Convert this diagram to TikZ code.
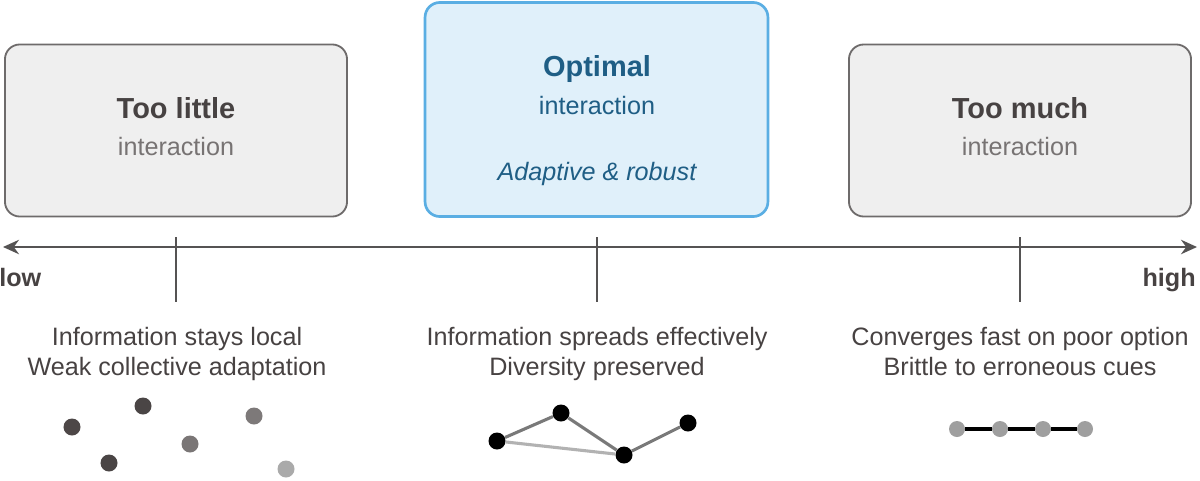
\documentclass[tikz,border=0pt]{standalone}
\usepackage{fontspec}
\setmainfont{Liberation Sans}
\usetikzlibrary{arrows.meta}
\definecolor{boxfill}{HTML}{EFEFEF}
\definecolor{boxline}{HTML}{6E6B6B}
\definecolor{optfill}{HTML}{E0F0FA}
\definecolor{optline}{HTML}{5AAEE3}
\definecolor{opttext}{HTML}{1F5E85}
\definecolor{darktext}{HTML}{474242}
\definecolor{softtext}{HTML}{777373}
\definecolor{axisgray}{HTML}{555353}
\newcommand{\bigfont}{\fontsize{20.6}{24}\selectfont}
\newcommand{\midfont}{\fontsize{17.9}{21}\selectfont}

\begin{document}
\begin{tikzpicture}[x=0.025cm,y=-0.025cm,
	sidebox/.style={draw=boxline,line width=1.3pt,fill=boxfill,rounded corners=0.37cm,
		minimum width=8.55cm,minimum height=4.3cm,inner sep=0pt},
	optbox/.style={draw=optline,line width=1.9pt,fill=optfill,rounded corners=0.37cm,
		minimum width=8.57cm,minimum height=5.35cm,inner sep=0pt},
	txt/.style={anchor=base,inner sep=0pt,font=\midfont},
	title/.style={txt,font=\bigfont\bfseries},
	dot/.style={circle,inner sep=0pt,minimum size=0.425cm},
	tick/.style={draw=axisgray,line width=1.4pt}]
\useasboundingbox (0,0) rectangle (1200,480);
% boxes
\node [sidebox] (little) at (176,130.5) {};
\node [optbox] (optimal) at (596.5,109.5) {};
\node [sidebox] (much) at (1020,130.5) {};
\node [title,text=darktext] (littletitle) at (176,118) {Too little};
\node [txt,text=softtext] (littlesub) at (176,155) {interaction};
\node [title,text=opttext] (opttitle) at (597,76) {Optimal};
\node [txt,text=opttext] (optsub) at (597,114) {interaction};
\node [txt,text=opttext,font=\midfont\itshape] (optnote) at (597,180) {Adaptive \& robust};
\node [title,text=darktext] (muchtitle) at (1020,118) {Too much};
\node [txt,text=softtext] (muchsub) at (1020,155) {interaction};
% axis
\coordinate (axisL) at (3,247);
\coordinate (axisR) at (1197,247);
\draw [axisgray,line width=1.4pt,{Stealth[length=0.4cm,width=0.36cm]}-{Stealth[length=0.4cm,width=0.36cm]}] (axisL) -- (axisR);
\node [txt,font=\midfont\bfseries,text=darktext,anchor=base west] (low) at (-1,286) {low};
\node [txt,font=\midfont\bfseries,text=darktext,anchor=base east] (high) at (1196,286) {high};
\foreach \x/\n in {176/a,597/b,1020/c}{
	\coordinate (top\n) at (\x,237);
	\coordinate (bot\n) at (\x,302);
	\draw [tick] (top\n) -- (bot\n);
}
% descriptions
\node [txt,text=darktext] (locA) at (177,345) {Information stays local};
\node [txt,text=darktext] (locB) at (177,375) {Weak collective adaptation};
\node [txt,text=darktext] (sprA) at (597,345) {Information spreads effectively};
\node [txt,text=darktext] (sprB) at (597,375) {Diversity preserved};
\node [txt,text=darktext] (conA) at (1020,345) {Converges fast on poor option};
\node [txt,text=darktext] (conB) at (1020,375) {Brittle to erroneous cues};
% scattered agents
\node [dot,fill={rgb,255:red,77;green,71;blue,71}] (s1) at (72,427) {};
\node [dot,fill={rgb,255:red,74;green,69;blue,69}] (s2) at (143,406) {};
\node [dot,fill={rgb,255:red,74;green,69;blue,69}] (s3) at (109,463) {};
\node [dot,fill={rgb,255:red,122;green,118;blue,118}] (s4) at (190,444) {};
\node [dot,fill={rgb,255:red,125;green,121;blue,121}] (s5) at (254,416) {};
\node [dot,fill={rgb,255:red,170;green,170;blue,170}] (s6) at (286,469) {};
% network
\node [dot,fill=black] (n1) at (497,441) {};
\node [dot,fill=black] (n2) at (561,413) {};
\node [dot,fill=black] (n3) at (624,455) {};
\node [dot,fill=black] (n4) at (688,423) {};
\draw [line width=2.2pt,gray!60] (n1) -- (n3);
\draw [line width=2.2pt,gray!95!black] (n1) -- (n2) -- (n3) -- (n4);
% chain
\node [dot,fill=gray!75,minimum size=0.4cm] (c1) at (957,429) {};
\node [dot,fill=gray!75,minimum size=0.4cm] (c2) at (1000,429) {};
\node [dot,fill=gray!75,minimum size=0.4cm] (c3) at (1043,429) {};
\node [dot,fill=gray!75,minimum size=0.4cm] (c4) at (1085,429) {};
\draw [line width=3.4pt,black] (c1) -- (c2) (c2) -- (c3) (c3) -- (c4);
\end{tikzpicture}
\end{document}
